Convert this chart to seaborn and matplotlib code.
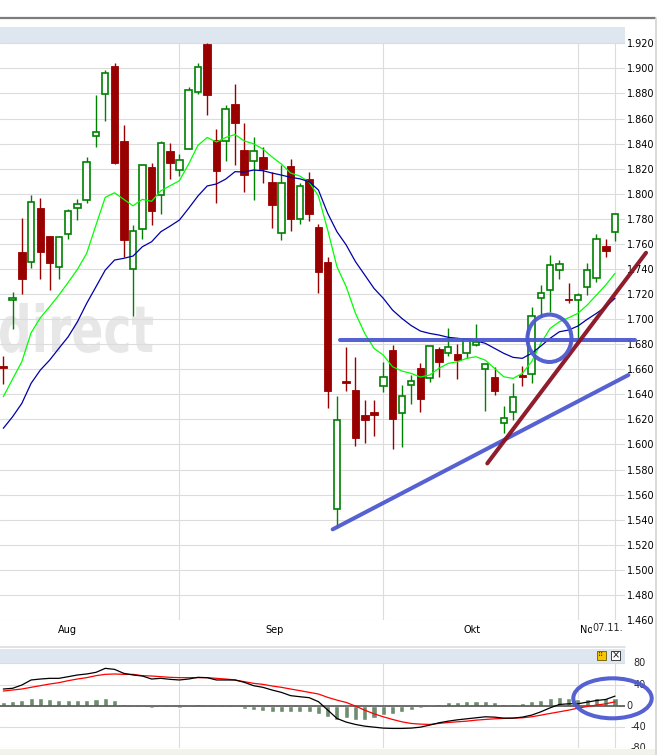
import numpy as np
import pandas as pd
import matplotlib
matplotlib.use("Agg")
import matplotlib.pyplot as plt
import seaborn as sns
from matplotlib.patches import Rectangle, Ellipse, PathPatch
from matplotlib.lines import Line2D
from matplotlib.textpath import TextPath
from matplotlib.font_manager import FontProperties
from matplotlib.transforms import Affine2D, blended_transform_factory
from matplotlib.ticker import FormatStrFormatter

# ---------------------------------------------------------------- daily candles
opens = [1.6625, 1.715, 1.7535, 1.7453, 1.7886, 1.7663, 1.7418, 1.7676, 1.7884, 1.7952,
         1.8458, 1.8793, 1.9019, 1.842, 1.7397, 1.7716, 1.8213, 1.7987, 1.8341, 1.8187,
         1.8354, 1.8809, 1.9194, 1.8429, 1.8418, 1.8716, 1.8349, 1.8259, 1.8293, 1.8093,
         1.7684, 1.8221, 1.7796, 1.8117, 1.7735, 1.7455, 1.5482, 1.6508, 1.6434, 1.6235,
         1.6261, 1.6468, 1.6753, 1.6248, 1.6472, 1.6607, 1.6527, 1.6761, 1.6727, 1.6721,
         1.6727, 1.6793, 1.6599, 1.6535, 1.6169, 1.6256, 1.6554, 1.6559, 1.7166, 1.723,
         1.7391, 1.7162, 1.715, 1.7253, 1.7325, 1.7583, 1.7697]
highs = [1.6705, 1.7214, 1.7806, 1.799, 1.7966, 1.7663, 1.7663, 1.7878, 1.7958, 1.8295,
         1.8788, 1.8987, 1.9045, 1.8548, 1.7748, 1.8235, 1.8243, 1.842, 1.8402, 1.8314,
         1.8849, 1.904, 1.9205, 1.8516, 1.8708, 1.8875, 1.8562, 1.845, 1.837, 1.8173,
         1.8229, 1.8277, 1.8088, 1.8173, 1.7758, 1.7493, 1.6384, 1.678, 1.670, 1.6355,
         1.6355, 1.6658, 1.6793, 1.6474, 1.6554, 1.6647, 1.6785, 1.678, 1.6926, 1.6801,
         1.6847, 1.6961, 1.6639, 1.662, 1.6307, 1.6488, 1.6626, 1.7099, 1.7272, 1.7511,
         1.7471, 1.7285, 1.7206, 1.7445, 1.7679, 1.7636, 1.7844]
lows = [1.648, 1.6923, 1.720, 1.741, 1.7322, 1.7234, 1.7322, 1.7639, 1.779, 1.7926,
        1.8373, 1.8583, 1.8237, 1.7498, 1.7024, 1.7639, 1.7753, 1.7841, 1.812, 1.8139,
        1.8354, 1.8798, 1.8628, 1.7928, 1.8264, 1.8232, 1.8016, 1.7952, 1.8088, 1.7729,
        1.7631, 1.7703, 1.7761, 1.7782, 1.7208, 1.629, 1.5335, 1.6429, 1.599, 1.6014,
        1.6067, 1.6421, 1.5961, 1.5977, 1.632, 1.6261, 1.650, 1.6541, 1.6708, 1.6522,
        1.6687, 1.6788, 1.6269, 1.6394, 1.6089, 1.6195, 1.6468, 1.6488, 1.7019, 1.7056,
        1.7322, 1.7131, 1.6817, 1.7192, 1.7298, 1.7498, 1.7623]
closes = [1.661, 1.717, 1.732, 1.7932, 1.7537, 1.745, 1.7652, 1.786, 1.7916, 1.8251,
          1.849, 1.896, 1.8245, 1.7631, 1.77, 1.8227, 1.7865, 1.8402, 1.8247, 1.8267,
          1.8827, 1.9009, 1.8788, 1.8181, 1.8673, 1.8567, 1.8152, 1.8341, 1.82, 1.7912,
          1.8083, 1.7798, 1.8062, 1.7841, 1.7378, 1.6429, 1.6193, 1.6492, 1.6054, 1.6195,
          1.6235, 1.6535, 1.620, 1.6384, 1.6503, 1.636, 1.6785, 1.666, 1.6775, 1.6673,
          1.6839, 1.6819, 1.6639, 1.6429, 1.6209, 1.6376, 1.654, 1.7024, 1.7206, 1.7429,
          1.7437, 1.715, 1.7195, 1.7391, 1.7636, 1.7545, 1.7836]

# moving averages (fast green, slow blue)
ma_fast = [1.6381, 1.6522, 1.6660, 1.6891, 1.7011, 1.7099, 1.7192, 1.7293, 1.7397, 1.7525,
           1.7750, 1.7971, 1.8008, 1.7955, 1.7904, 1.7955, 1.7940, 1.8024, 1.8064, 1.8104,
           1.8237, 1.8386, 1.8449, 1.8413, 1.8449, 1.8472, 1.8421, 1.8399, 1.8357, 1.8293,
           1.8237, 1.8165, 1.8141, 1.8093, 1.7982, 1.7711, 1.7418, 1.7258, 1.7046, 1.6886,
           1.6767, 1.6713, 1.6620, 1.6586, 1.6567, 1.6538, 1.6554, 1.6607, 1.6647, 1.6660,
           1.6687, 1.6700, 1.6673, 1.6607, 1.6540, 1.6527, 1.6567, 1.6660, 1.6807, 1.6926,
           1.6979, 1.7011, 1.7046, 1.7112, 1.7192, 1.7272, 1.7365]
ma_slow = [1.6129, 1.6221, 1.6328, 1.6488, 1.6594, 1.6673, 1.6767, 1.6859, 1.6979, 1.7126,
           1.7258, 1.7391, 1.7471, 1.7485, 1.7503, 1.7577, 1.7617, 1.7697, 1.7742, 1.7790,
           1.7884, 1.7982, 1.8062, 1.8078, 1.8117, 1.8176, 1.8173, 1.8189, 1.8184, 1.8165,
           1.8149, 1.8131, 1.8119, 1.8096, 1.8030, 1.7844, 1.7697, 1.7591, 1.7458, 1.7352,
           1.7245, 1.7166, 1.7072, 1.7006, 1.6949, 1.6905, 1.6886, 1.6873, 1.6855, 1.6847,
           1.6839, 1.6827, 1.6807, 1.6767, 1.6727, 1.6695, 1.6687, 1.6727, 1.6785, 1.6847,
           1.6899, 1.6913, 1.6945, 1.6998, 1.7046, 1.7099, 1.7166]

# MACD panel
macd = [31.6, 32.9, 39.1, 48.6, 50.4, 51.7, 51.7, 54.8, 58.0, 59.9,
        63.0, 70.5, 68.6, 61.1, 58.0, 56.1, 50.4, 51.7, 49.8, 48.6,
        50.4, 53.6, 52.9, 48.6, 48.6, 48.6, 44.2, 37.9, 34.8, 29.7,
        25.3, 19.1, 17.1, 15.3, 7.8, -7.9, -23.8, -30.7, -35.1, -38.3,
        -40.2, -42.0, -42.6, -42.6, -42.0, -40.2, -36.4, -32.0, -28.9, -26.4,
        -24.5, -22.6, -20.7, -21.3, -23.2, -23.2, -21.3, -17.6, -11.3, -3.8,
        2.5, 3.8, 3.8, 6.9, 10.0, 11.9, 18.2]
signal = [27.8, 29.7, 31.6, 34.8, 37.9, 41.0, 43.5, 47.3, 50.4, 53.0,
          56.7, 59.2, 59.9, 59.2, 59.2, 56.7, 56.1, 54.8, 53.6, 53.0,
          53.0, 53.0, 53.0, 51.7, 50.4, 48.6, 45.4, 42.3, 40.4, 37.3,
          34.8, 31.6, 28.5, 25.3, 22.2, 15.9, 10.7, 6.3, -0.6, -8.2,
          -15.1, -20.7, -25.7, -30.1, -33.2, -34.5, -35.1, -33.2, -31.4, -30.1,
          -28.9, -27.0, -25.7, -24.5, -23.8, -23.2, -22.6, -20.7, -17.6, -14.4,
          -11.3, -8.2, -4.4, -1.3, 1.3, 3.8, 7.5]
histogram = [6.3, 9.4, 11.3, 15.1, 15.1, 13.2, 11.3, 11.3, 11.3, 11.3,
             13.2, 15.1, 11.3, 3.8, -1.3, -1.3, -3.8, -1.3, -1.3, -3.8,
             -1.3, 3.8, 0.6, -1.3, -1.3, -1.9, -5.6, -7.5, -9.4, -11.3,
             -11.3, -11.3, -11.3, -11.3, -15.1, -20.7, -26.3, -22.6, -26.3, -26.3,
             -22.6, -16.9, -15.1, -11.3, -7.5, -3.8, -1.0, 3.8, 6.3, 7.5,
             9.4, 9.4, 9.4, 7.5, 3.8, 3.8, 5.6, 9.4, 11.3, 15.1,
             16.9, 15.1, 12.5, 13.2, 15.1, 13.8, 15.1]

month_labels = ["Aug", "Sep", "Okt", "Nov"]
last_date_label = "07.11."
price_ticks = [1.46 + 0.02 * k for k in range(24)]
macd_ticks = [80, 40, 0, -40, -80]

# hand-drawn analysis marks: (x0, y0, x1, y1) in day index / price
resistance = (36.33, 1.6831, 68.16, 1.6831)
support = (35.54, 1.5323, 67.44, 1.6554)
steep_trend = (52.22, 1.5849, 69.35, 1.7529)

# ---------------------------------------------------------------- layout
sns.set_style("white")
plt.rcParams["font.family"] = ["DejaVu Sans"]
plt.rcParams["axes.axisbelow"] = True

W, H = 658, 755
fig = plt.figure(figsize=(W / 100, H / 100), dpi=100)
fig.patch.set_facecolor("white")


def fx(px):
    return px / W


def fy(py):
    return 1 - py / H


PLOT_R = 625.0
ax = fig.add_axes([0, fy(620), fx(PLOT_R), (620 - 43.3) / H])
mx = fig.add_axes([0, fy(748.3), fx(PLOT_R), (748.3 - 663.3) / H])

GREEN = "#008000"
RED = "#990000"
GRID = "#DCDCDC"
MARK_BLUE = "#4D58D0"
MARK_RED = "#8A1020"
BAND = "#DEE6F0"

XMIN, XMAX = -0.356, 67.08
grid_days = [19, 41, 62, 66]
month_pos = [6.87, 29.32, 50.57, 63.2]

o = np.array(opens)
h = np.array(highs)
l = np.array(lows)
c = np.array(closes)
days = np.arange(len(o))
up = c >= o

# frame pieces around the panels
fig.add_artist(Line2D([0, fx(655)], [fy(18), fy(18)], color="#7C7C7C", lw=1.6))
fig.add_artist(Line2D([fx(655.5), fx(655.5)], [fy(18), 0], color="#D6D3CE", lw=1.2))
fig.add_artist(Rectangle((0, fy(43.3)), fx(PLOT_R), 16.0 / H, transform=fig.transFigure,
                         facecolor=BAND, edgecolor="none"))
fig.add_artist(Line2D([0, fx(PLOT_R)], [fy(647.3), fy(647.3)], color="#DDDDDD", lw=1.2))
fig.add_artist(Rectangle((0, fy(663.3)), fx(PLOT_R), 14.3 / H, transform=fig.transFigure,
                         facecolor=BAND, edgecolor="none"))
fig.add_artist(Rectangle((0, 0), fx(655), 6.0 / H, transform=fig.transFigure,
                         facecolor="#F3F3EE", edgecolor="none"))
# panel icons
fig.add_artist(Rectangle((fx(596.5), fy(659.5)), 9.0 / W, 8.5 / H, transform=fig.transFigure,
                         facecolor="#F7C600", edgecolor="#6A5A00", lw=0.6))
fig.text(fx(601), fy(655.3), "⠿", fontsize=5, ha="center", va="center", color="#4A3A00")
fig.add_artist(Rectangle((fx(611), fy(659.5)), 9.0 / W, 8.5 / H, transform=fig.transFigure,
                         facecolor="white", edgecolor="#222222", lw=0.6))
fig.text(fx(615.5), fy(655.5), "×", fontsize=7, ha="center", va="center", color="#111111")

# ---------------------------------------------------------------- price panel
# watermark
prop = FontProperties(family="DejaVu Sans", weight="bold")
tp = TextPath((0, 0), "direct", size=1, prop=prop)
ext = tp.get_extents()
sx = 153.0 / ext.width
sy = 49.0 / 0.76
wm_tr = (Affine2D().translate(-ext.x0, 0).scale(sx / W, sy / H)
         .translate(0, fy(352)) + fig.transFigure)
ax.add_patch(PathPatch(tp, transform=wm_tr, facecolor="#E7E7E7", edgecolor="none", zorder=0.3))

# wicks then bodies
ax.vlines(days[up], l[up], h[up], color=GREEN, lw=1.0, zorder=3)
ax.vlines(days[~up], l[~up], h[~up], color=RED, lw=1.0, zorder=3)
ax.bar(days[up], (c - o)[up], bottom=o[up], width=0.7, facecolor="white",
       edgecolor=GREEN, linewidth=1.2, zorder=4)
ax.bar(days[~up], (o - c)[~up], bottom=c[~up], width=0.82, facecolor=RED,
       edgecolor=RED, linewidth=0.6, zorder=4)

ma_df = pd.DataFrame({"day": days, "fast": ma_fast, "slow": ma_slow})
sns.lineplot(data=ma_df, x="day", y="fast", ax=ax, color="#00FF00", lw=0.9, zorder=5)
sns.lineplot(data=ma_df, x="day", y="slow", ax=ax, color="#0000A8", lw=0.9, zorder=5)

for (x0, y0, x1, y1), col in [(resistance, MARK_BLUE), (support, MARK_BLUE),
                              (steep_trend, MARK_RED)]:
    ax.plot([x0, x1], [y0, y1], color=col, lw=2.9, solid_capstyle="round",
            clip_on=False, zorder=10, alpha=0.95)
ax.add_patch(Ellipse((58.93, 1.6847), 4.75, 0.0378, fill=False, edgecolor=MARK_BLUE,
                     lw=2.9, clip_on=False, zorder=10, alpha=0.95))

ax.set_xlim(XMIN, XMAX)
ax.set_ylim(1.46, 1.92)
ax.set_xlabel("")
ax.set_ylabel("")
for s in ax.spines.values():
    s.set_visible(False)
ax.set_yticks(price_ticks)
ax.yaxis.set_major_formatter(FormatStrFormatter("%.3f"))
ax.yaxis.tick_right()
ax.tick_params(axis="y", length=0, pad=1.5, labelsize=7, colors="black")
ax.set_xticks(grid_days)
ax.set_xticks(month_pos, minor=True)
ax.set_xticklabels(month_labels, minor=True)
ax.tick_params(axis="x", which="major", length=0, labelbottom=False)
ax.tick_params(axis="x", which="minor", length=0, pad=3.5, labelsize=7, colors="black")
ax.grid(True, which="major", color=GRID, lw=0.8)
ax.text(65.25, -0.0045, last_date_label, transform=blended_transform_factory(ax.transData, ax.transAxes),
        ha="center", va="top", fontsize=7, zorder=6,
        bbox=dict(facecolor="white", edgecolor="none", pad=0.3))

# ---------------------------------------------------------------- MACD panel
mx.bar(days, histogram, width=0.55, color="#6E8C6E", zorder=3)
macd_df = pd.DataFrame({"day": days, "macd": macd, "signal": signal})
sns.lineplot(data=macd_df, x="day", y="signal", ax=mx, color="#FF0000", lw=0.9, zorder=5)
sns.lineplot(data=macd_df, x="day", y="macd", ax=mx, color="#000000", lw=0.9, zorder=6)
mx.axhline(0, color="#555555", lw=1.2, zorder=4)
mx.add_patch(Ellipse((65.73, 14.1), 8.46, 75.3, fill=False, edgecolor=MARK_BLUE,
                     lw=2.9, clip_on=False, zorder=10, alpha=0.95))

mx.set_xlim(XMIN, XMAX)
mx.set_ylim(-80, 80)
mx.set_xlabel("")
mx.set_ylabel("")
for s in mx.spines.values():
    s.set_visible(False)
mx.set_yticks(macd_ticks)
mx.set_xticks(grid_days)
mx.tick_params(axis="both", length=0, labelleft=False, labelbottom=False)
mx.grid(True, color=GRID, lw=0.8)
lab_tr = blended_transform_factory(mx.transAxes, mx.transData)
for v in macd_ticks:
    if v == 0:
        mx.text(626.0 / PLOT_R, v, "0", transform=lab_tr, ha="left", va="center", fontsize=7)
    else:
        mx.text(646.0 / PLOT_R, v, f"{v}", transform=lab_tr, ha="right", va="center", fontsize=7)

fig.savefig("out.png", dpi=100, facecolor="white")
